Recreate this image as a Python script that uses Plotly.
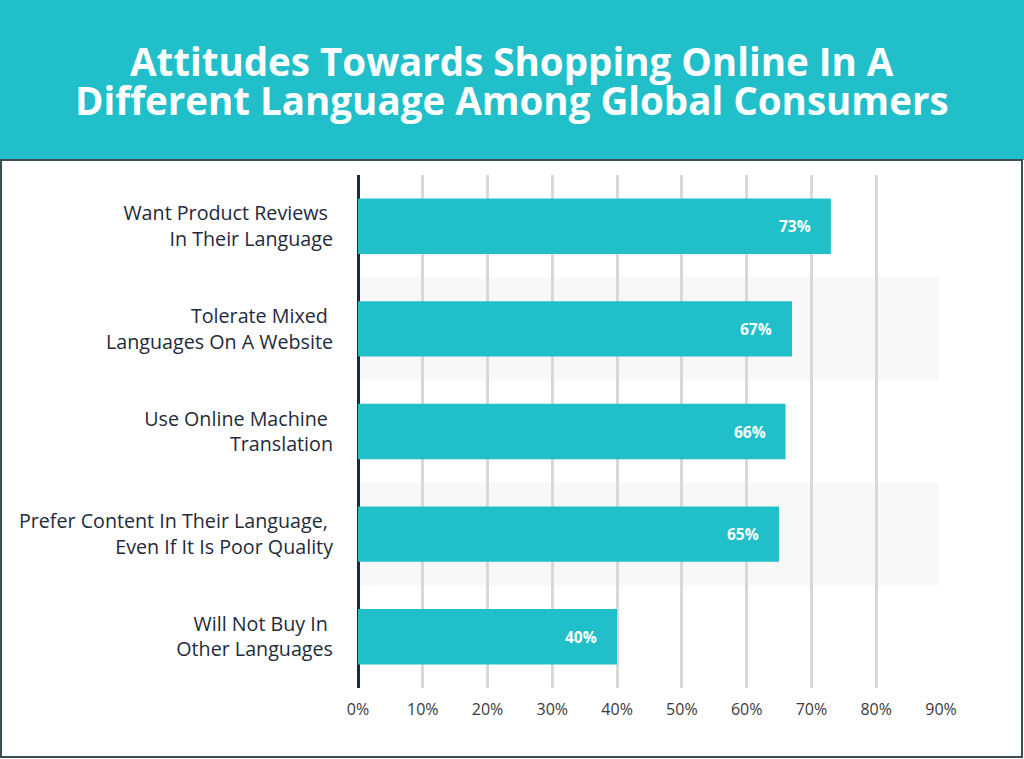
import plotly.graph_objects as go

categories = [
    "Want Product Reviews\u00a0<br>In Their Language",
    "Tolerate Mixed\u00a0<br>Languages On A Website",
    "Use Online Machine\u00a0<br>Translation",
    "Prefer Content In Their Language,\u00a0<br>Even If It Is Poor Quality",
    "Will Not Buy In\u00a0<br>Other Languages",
]
values = [73, 67, 66, 65, 40]
tick_vals = [0, 10, 20, 30, 40, 50, 60, 70, 80, 90]
tick_text = ["0%", "10%", "20%", "30%", "40%", "50%", "60%", "70%", "80%", "90%"]
title_lines = ["Attitudes Towards Shopping Online In A", "Different Language Among Global Consumers"]

W, H = 1024, 759
TEAL = "#20BFCA"
NAVY = "#1B2B3C"
BORDER = "#3C4E54"

x0_px, x1_px = 358, 941
y_top_px, y_bot_px = 175, 688

fig = go.Figure()

fig.add_trace(go.Bar(
    y=categories, x=values, orientation="h",
    marker=dict(color=TEAL, line=dict(width=0)),
    width=0.54, hoverinfo="skip", showlegend=False,
))

shapes = []
# alternating light bands for rows 2 and 4
for i, c in enumerate(categories):
    if i % 2 == 1:
        shapes.append(dict(type="rect", xref="x", yref="y", layer="below",
                           x0=0, x1=tick_vals[-1] - 0.3, y0=i - 0.5, y1=i + 0.5,
                           fillcolor="#F8F8F8", line=dict(width=0)))
# header band
shapes.append(dict(type="rect", xref="paper", yref="paper", x0=0, x1=1,
                   y0=1 - 160 / H, y1=1, fillcolor=TEAL, line=dict(width=0), layer="below"))
# panel border
shapes.append(dict(type="rect", xref="paper", yref="paper", x0=1 / W, x1=1 - 2 / W,
                   y0=2 / H, y1=1 - 160 / H, fillcolor="rgba(0,0,0,0)",
                   line=dict(color=BORDER, width=2), layer="above"))

annotations = []
for line, yc in zip(title_lines, [61, 100]):
    annotations.append(dict(text="<b>" + line + "</b>", xref="paper", yref="paper",
                            x=0.5, y=1 - yc / H, xanchor="center", yanchor="middle",
                            showarrow=False,
                            font=dict(family="Open Sans", size=38.5, color="white")))
for c, v in zip(categories, values):
    annotations.append(dict(text="<b>%d%%</b>" % v, x=v, y=c, xref="x", yref="y",
                            xanchor="right", yanchor="middle", xshift=-18,
                            showarrow=False,
                            font=dict(family="Open Sans", size=15.5, color="white")))

fig.update_layout(
    width=W, height=H,
    margin=dict(l=0, r=0, t=0, b=0, pad=0, autoexpand=False),
    paper_bgcolor="white", plot_bgcolor="white",
    shapes=shapes, annotations=annotations,
    xaxis=dict(domain=[x0_px / W, x1_px / W], range=[0, 90], automargin=False,
               tickvals=tick_vals, ticktext=tick_text,
               showgrid=True, gridcolor="#D8D8D8", gridwidth=3,
               zeroline=True, zerolinecolor=NAVY, zerolinewidth=3,
               showline=False, ticks="", ticklabelstandoff=10,
               tickfont=dict(family="Open Sans", size=16, color="#3A3A3A"),
               fixedrange=True),
    yaxis=dict(domain=[1 - y_bot_px / H, 1 - y_top_px / H], automargin=False,
               range=[len(categories) - 0.5, -0.5],
               showgrid=False, zeroline=False, showline=False, ticks="",
               ticklabelstandoff=24,
               tickfont=dict(family="Open Sans", size=19.7, color="#1E2B3B"),
               fixedrange=True),
    bargap=0.46,
)

fig.write_html("out.html", config={"displayModeBar": False},
               post_script="document.body.style.margin='0';document.body.style.overflow='hidden';")
